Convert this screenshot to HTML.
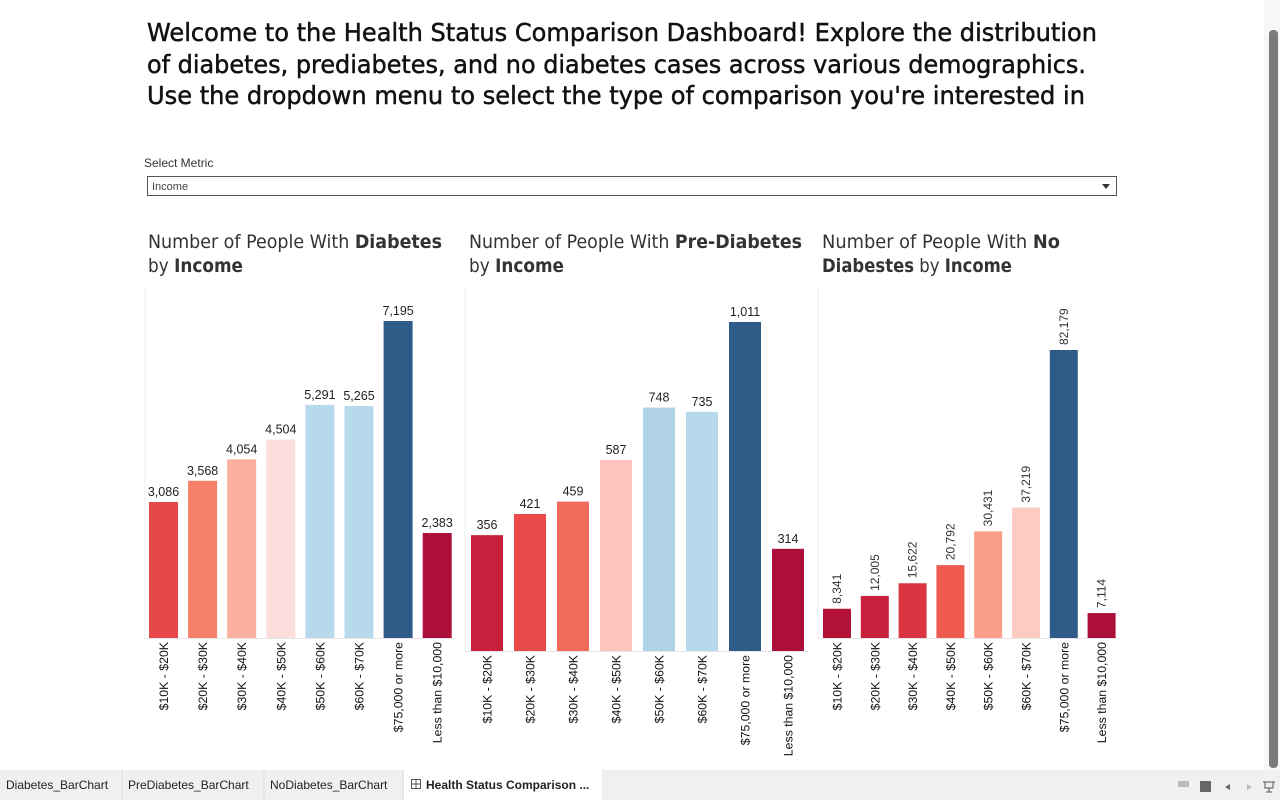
<!DOCTYPE html>
<html><head><meta charset="utf-8">
<style>
html,body{margin:0;padding:0;background:#fff;width:1280px;height:800px;overflow:hidden;font-family:"Liberation Sans",sans-serif;}
</style></head>
<body>
<svg id="root" width="1280" height="800" xmlns="http://www.w3.org/2000/svg">
  <rect x="0" y="0" width="1280" height="800" fill="#fff"/>
  <g font-family="DejaVu Sans, Liberation Sans, sans-serif" font-size="25" fill="#111" stroke="#111" stroke-width="0.5">
    <text x="147" y="41" textLength="950" lengthAdjust="spacingAndGlyphs">Welcome to the Health Status Comparison Dashboard! Explore the distribution</text>
    <text x="147" y="73" textLength="939" lengthAdjust="spacingAndGlyphs">of diabetes, prediabetes, and no diabetes cases across various demographics.</text>
    <text x="147" y="104" textLength="938" lengthAdjust="spacingAndGlyphs">Use the dropdown menu to select the type of comparison you're interested in</text>
  </g>
  <text x="144" y="167" font-size="12" fill="#333">Select Metric</text>
  <g>
    <rect x="147.5" y="176.5" width="969" height="19" fill="#fff" stroke="#555"/>
    <text x="152" y="190" font-size="11" fill="#444">Income</text>
    <path d="M1102 184 L1110 184 L1106 189 Z" fill="#333"/>
  </g>
  <g font-size="19" fill="#333" font-family="DejaVu Sans, Liberation Sans, sans-serif">
    <text x="148" y="248" textLength="294" lengthAdjust="spacingAndGlyphs">Number of People With <tspan font-weight="bold">Diabetes</tspan></text>
    <text x="148" y="272" textLength="95" lengthAdjust="spacingAndGlyphs">by <tspan font-weight="bold">Income</tspan></text>
    <text x="469" y="248" textLength="333" lengthAdjust="spacingAndGlyphs">Number of People With <tspan font-weight="bold">Pre-Diabetes</tspan></text>
    <text x="469" y="272" textLength="95" lengthAdjust="spacingAndGlyphs">by <tspan font-weight="bold">Income</tspan></text>
    <text x="822" y="248" textLength="238" lengthAdjust="spacingAndGlyphs">Number of People With <tspan font-weight="bold">No</tspan></text>
    <text x="822" y="272" textLength="190" lengthAdjust="spacingAndGlyphs"><tspan font-weight="bold">Diabestes</tspan> by <tspan font-weight="bold">Income</tspan></text>
  </g>
  <g id="charts"></g>
  <g>
    <rect x="1264" y="0" width="16" height="770" fill="#f7f7f7"/>
    <rect x="1269" y="30" width="9" height="738" rx="4" fill="#7b7b7b"/>
  </g>
  <g>
    <rect x="0" y="770" width="1280" height="30" fill="#f0f0f0"/>
    <line x1="122" y1="770" x2="122" y2="800" stroke="#ddd"/>
    <line x1="264" y1="770" x2="264" y2="800" stroke="#ddd"/>
    <line x1="403" y1="770" x2="403" y2="800" stroke="#ddd"/>
    <rect x="404" y="770" width="198" height="30" fill="#fff"/>
    <g font-size="12" fill="#222">
      <text x="6" y="789">Diabetes_BarChart</text>
      <text x="128" y="789">PreDiabetes_BarChart</text>
      <text x="270" y="789">NoDiabetes_BarChart</text>
      <text x="426" y="789" font-weight="bold">Health Status Comparison ...</text>
    </g>
    <rect x="411.5" y="779.5" width="9" height="9" fill="none" stroke="#555"/>
    <line x1="416" y1="780" x2="416" y2="788" stroke="#555"/><line x1="412" y1="784" x2="420" y2="784" stroke="#555"/>
    <rect x="1178" y="781" width="11" height="6" fill="#bbb"/>
    <rect x="1200" y="781" width="11" height="11" fill="#666"/>
    <path d="M1230 784 L1225 787 L1230 790 Z" fill="#666"/>
    <path d="M1247 784 L1252 787 L1247 790 Z" fill="#bbb"/>
    <path d="M1263 782 H1275 M1265 782 V788 H1273 V782 M1269 788 V792 M1266 792 H1272" stroke="#555" fill="none"/>
  </g>
</svg>
<script>
const categories = ["$10K - $20K","$20K - $30K","$30K - $40K","$40K - $50K","$50K - $60K","$60K - $70K","$75,000 or more","Less than $10,000"];
const diabetesValues = [3086,3568,4054,4504,5291,5265,7195,2383];
const prediabetesValues = [356,421,459,587,748,735,1011,314];
const noDiabetesValues = [8341,12005,15622,20792,30431,37219,82179,7114];
const diabetesColors = ["#e5474a","#f7806a","#fcaf9f","#fcdedd","#b7d9ec","#b7d9ec","#2e5b87","#ab0f3a"];
const prediabetesColors = ["#c81f3c","#e84a49","#f26a59","#fdc5bd","#b0d2e9","#b7d9ec","#2e5b87","#ab0f3a"];
const noDiabetesColors = ["#b11236","#c81f3c","#db3542","#ef5c4f","#fc9f8a","#fdcbc2","#2e5b87","#ab0f3a"];

const NS="http://www.w3.org/2000/svg";
const root=document.getElementById('charts');
function mk(tag,attrs,parent){const e=document.createElementNS(NS,tag);for(const k in attrs)e.setAttribute(k,attrs[k]);parent.appendChild(e);return e;}
function fmt(v){return v.toLocaleString('en-US');}

const panels=[
 {name:'diabetes',values:diabetesValues,colors:diabetesColors,left:145,x0:149,step:39.1,bw:29,base:638,maxH:317,maxV:7195,rot:false},
 {name:'prediabetes',values:prediabetesValues,colors:prediabetesColors,left:465,x0:471,step:43,bw:32,base:651,maxH:329,maxV:1011,rot:false},
 {name:'nodiabetes',values:noDiabetesValues,colors:noDiabetesColors,left:818,x0:823,step:37.8,bw:28,base:638,maxH:288,maxV:82179,rot:true}
];
panels.forEach(p=>{
  const g=mk('g',{},root);
  
  
  const yScale=v=>p.base - v/p.maxV*p.maxH;
  const xScale=i=>p.x0 + i*p.step;
  const ax=mk('line',{x1:p.left,y1:288,x2:p.left,y2:p.base+2,stroke:'#eee'},g);
  
  
  const bl=mk('line',{x1:p.left,y1:p.base+0.5,x2:xScale(categories.length-1)+p.bw+4,y2:p.base+0.5,stroke:'#e6e6e6'},g);
  
  
  p.values.forEach((v,i)=>{
    const x=xScale(i), y=yScale(v);
    const r=mk('rect',{x:x,y:y,width:p.bw,height:p.base-y,fill:p.colors[i]},g);
    
    
    const cx=x+p.bw/2;
    let t;
    if(p.rot){
      t=mk('text',{x:0,y:0,transform:`translate(${cx+4},${y-5}) rotate(-90)`,'font-size':12,fill:'#333'},g);
    } else {
      t=mk('text',{x:cx,y:y-6,'text-anchor':'middle','font-size':12.5,fill:'#222'},g);
    }
    t.textContent=fmt(v);
    
    
    const lt=mk('text',{x:0,y:0,transform:`translate(${cx+4.5},${p.base+4}) rotate(-90)`,'text-anchor':'end','font-size':12.3,fill:'#111'},g);
    lt.textContent=categories[i];
    
    
  });
});
</script>
</body></html>
